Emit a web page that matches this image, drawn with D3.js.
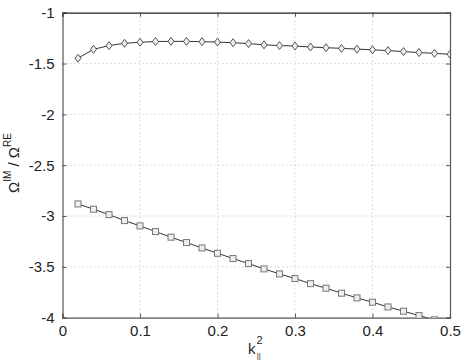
<!DOCTYPE html>
<html><head><meta charset="utf-8">
<script src="https://cdn.jsdelivr.net/npm/d3@7"></script>
<style>body{margin:0;background:#fff}svg{display:block}</style>
</head><body>
<script>
const kValues = [0.02,0.04,0.06,0.08,0.10,0.12,0.14,0.16,0.18,0.20,0.22,0.24,0.26,0.28,0.30,0.32,0.34,0.36,0.38,0.40,0.42,0.44,0.46,0.48,0.50];
const diamondSeries = [-1.448,-1.36,-1.324,-1.301,-1.291,-1.283,-1.282,-1.282,-1.285,-1.289,-1.295,-1.304,-1.316,-1.323,-1.328,-1.337,-1.344,-1.351,-1.358,-1.365,-1.373,-1.382,-1.392,-1.400,-1.409];
const squareSeries = [-2.881,-2.933,-2.986,-3.045,-3.097,-3.153,-3.208,-3.261,-3.314,-3.366,-3.418,-3.468,-3.52,-3.569,-3.615,-3.665,-3.71,-3.759,-3.805,-3.848,-3.894,-3.936,-3.979,-4.021,-4.063];
const xTicks = [0,0.1,0.2,0.3,0.4,0.5];
const yTicks = [-1,-1.5,-2,-2.5,-3,-3.5,-4];

const W=464,H=360;
const m={left:62.5,top:12.7,right:450,bottom:317.7};
const svg=d3.select("body").append("svg").attr("width",W).attr("height",H);
const x=d3.scaleLinear().domain([0,0.5]).range([m.left,m.right]);
const y=d3.scaleLinear().domain([-4,-1]).range([m.bottom,m.top]);
const font="Liberation Sans, Arial, sans-serif";
const fmt=d=>String(d);

// grid
svg.append("g").selectAll("line").data(xTicks.slice(1,-1)).join("line")
  .attr("x1",d=>x(d)).attr("x2",d=>x(d)).attr("y1",m.top).attr("y2",m.bottom)
  .attr("stroke","#bbb").attr("stroke-width",1).attr("stroke-dasharray","1,3");
svg.append("g").selectAll("line").data(yTicks.slice(1,-1)).join("line")
  .attr("y1",d=>y(d)).attr("y2",d=>y(d)).attr("x1",m.left).attr("x2",m.right)
  .attr("stroke","#bbb").attr("stroke-width",1).attr("stroke-dasharray","1,3");

// axes with inward ticks
const axB=d3.axisBottom(x).tickValues(xTicks).tickSize(-4).tickPadding(8).tickFormat(fmt);
const axL=d3.axisLeft(y).tickValues(yTicks).tickSize(-4).tickPadding(8).tickFormat(fmt);
const axT=d3.axisTop(x).tickValues(xTicks).tickSize(-4).tickFormat("");
const axR=d3.axisRight(y).tickValues(yTicks).tickSize(-4).tickFormat("");
function style(g){g.selectAll("path").attr("stroke","#555").attr("stroke-width",1.2);
  g.selectAll("line").attr("stroke","#555");
  g.selectAll("text").attr("font-family",font).attr("font-size",15).attr("fill","#222");}
svg.append("g").attr("transform",`translate(0,${m.bottom})`).call(axB).call(style);
svg.append("g").attr("transform",`translate(${m.left},0)`).call(axL).call(style);
svg.append("g").attr("transform",`translate(0,${m.top})`).call(axT).call(style).select("path").attr("stroke","#222");
svg.append("g").attr("transform",`translate(${m.right},0)`).call(axR).call(style);

// clip
svg.append("clipPath").attr("id","c").append("rect").attr("x",m.left).attr("y",m.top)
  .attr("width",m.right-m.left).attr("height",m.bottom-m.top);
const plot=svg.append("g").attr("clip-path","url(#c)");
const line=d3.line().x((d,i)=>x(kValues[i])).y(d=>y(d));
plot.append("path").datum(diamondSeries).attr("d",line).attr("fill","none").attr("stroke","#333").attr("stroke-width",1);
plot.append("path").datum(squareSeries).attr("d",line).attr("fill","none").attr("stroke","#333").attr("stroke-width",1);
plot.append("g").selectAll("path").data(diamondSeries).join("path")
  .attr("transform",(d,i)=>`translate(${x(kValues[i])},${y(d)})`)
  .attr("d","M0,-4L3,0L0,4L-3,0Z").attr("fill","#eee").attr("stroke","#555").attr("stroke-width",1);
plot.append("g").selectAll("rect").data(squareSeries).join("rect")
  .attr("x",(d,i)=>x(kValues[i])-3).attr("y",d=>y(d)-3).attr("width",6).attr("height",6)
  .attr("fill","#eee").attr("stroke","#777").attr("stroke-width",1);

// x label
const xl=svg.append("text").attr("x",248).attr("y",354).attr("font-family",font).attr("font-size",15).attr("fill","#222");
xl.append("tspan").text("k");
xl.append("tspan").attr("font-size",11).attr("dx",1).attr("dy",-10).text("2");
xl.append("tspan").attr("font-size",8).attr("dx",-6).attr("dy",14).text("||");

// y label
const yl=svg.append("text").attr("transform","translate(19,163) rotate(-90)").attr("text-anchor","middle")
  .attr("font-family",font).attr("font-size",15).attr("fill","#222");
yl.append("tspan").text("Ω");
yl.append("tspan").attr("font-size",10).attr("dy",-8).text("IM");
yl.append("tspan").attr("dy",8).text(" / Ω");
yl.append("tspan").attr("font-size",10).attr("dy",-8).text("RE");
</script>
</body></html>
